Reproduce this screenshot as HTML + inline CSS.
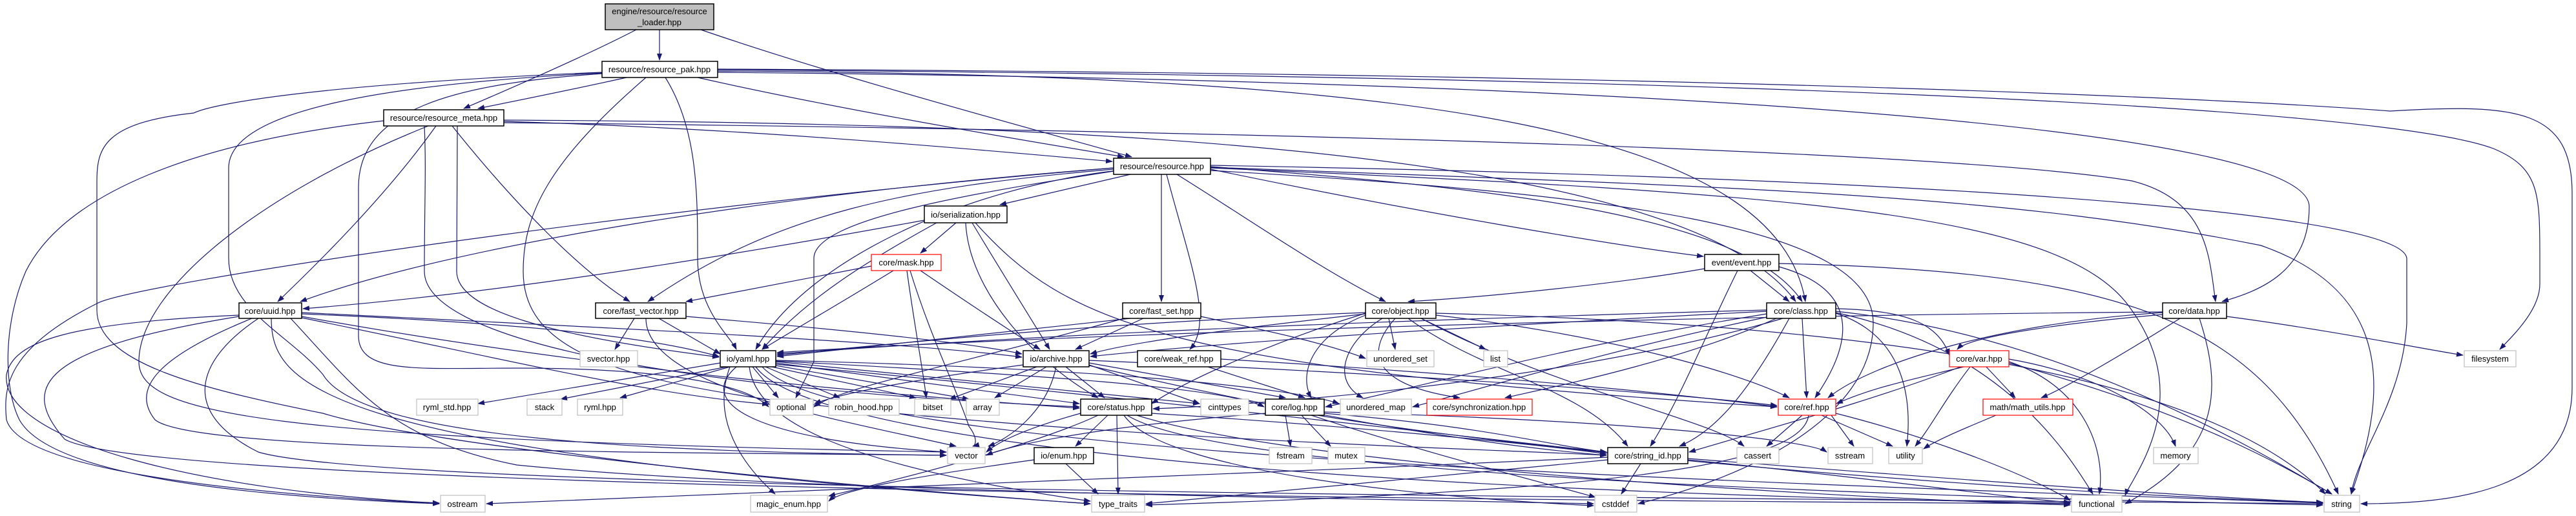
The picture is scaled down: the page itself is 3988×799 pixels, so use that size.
<!DOCTYPE html>
<html><head><meta charset="utf-8"><style>
html,body{margin:0;padding:0;background:#fff;}
svg{display:block;}
text{font-family:"Liberation Sans",Helvetica,sans-serif;font-size:13px;fill:#000;}
.e{fill:none;stroke:#191970;stroke-width:1.2;marker-end:url(#a);}
.p{fill:#fff;stroke:#000;stroke-width:1.5;}
.g{fill:#fff;stroke:#bfbfbf;stroke-width:1.2;}
.r{fill:#fff;stroke:#ff0000;stroke-width:1.2;}
</style></head><body>
<svg width="3988" height="799" viewBox="0 0 3988 799" xmlns="http://www.w3.org/2000/svg">
<defs><marker id="a" markerWidth="11" markerHeight="8" refX="10" refY="4" orient="auto" markerUnits="userSpaceOnUse"><path d="M0,0 L11,4 L0,8 z" fill="#191970"/></marker></defs>
<g>
<path class="e" d="M1021 46 L1021 93"/>
<path class="e" d="M985 46 C900 90 760 150 718 168"/>
<path class="e" d="M1085 46 C1300 120 1600 200 1752 243"/>
<path class="e" d="M970 120 C880 140 780 160 740 168"/>
<path class="e" d="M1080 120 C1300 170 1600 220 1740 243"/>
<path class="e" d="M1030 120 C1080 200 1080 300 1080 400 C1080 480 1130 520 1140 541"/>
<path class="e" d="M1111 110 C2200 115 2750 200 2795 467"/>
<path class="e" d="M1111 112 C2600 125 3575 200 3575 320 C3575 420 3500 450 3440 467"/>
<path class="e" d="M1111 108 C2800 120 3700 170 3860 230 C3932 260 3932 300 3932 400 L3932 440 C3932 480 3890 520 3870 541"/>
<path class="e" d="M1111 107 C2800 115 3550 160 3700 172 C3900 160 3982 170 3982 300 L3982 600 C3982 760 3800 780 3655 780"/>
<path class="e" d="M932 112 C500 130 330 160 300 175 C160 190 150 230 150 280 L150 480 C150 560 300 600 500 640 C700 700 1400 760 1688 780"/>
<path class="e" d="M932 113 C600 130 354 170 354 260 L354 400 C354 480 450 520 500 580 C560 680 1000 700 1465 705"/>
<path class="e" d="M932 114 C700 130 555 170 555 290 L555 520 C555 580 650 570 800 570 C1000 570 1150 590 1190 630"/>
<path class="e" d="M1000 120 C850 250 810 330 810 420 C810 520 900 580 1200 620 C1700 680 2300 695 2487 705"/>
<path class="e" d="M675 195 C600 300 500 400 430 467"/>
<path class="e" d="M700 195 C800 320 900 420 975 467"/>
<path class="e" d="M780 188 C1200 200 1600 240 1722 250"/>
<path class="e" d="M708 195 C708 260 707 320 707 420 C707 480 850 520 1113 553"/>
<path class="e" d="M663 195 C400 300 215 450 215 560 C215 640 400 680 1465 700"/>
<path class="e" d="M780 186 C1600 190 2600 220 2780 467"/>
<path class="e" d="M780 190 C1800 200 3000 230 3300 280 C3420 310 3420 400 3430 467"/>
<path class="e" d="M657 195 C660 260 657 320 657 420 C657 520 1000 600 1671 630"/>
<path class="e" d="M594 187 C300 220 100 300 40 420 C5 500 5 600 30 650 C80 740 400 770 680 780"/>
<path class="e" d="M1750 270 L1548 317"/>
<path class="e" d="M1798 270 L1798 467"/>
<path class="e" d="M1806 270 C1840 400 1880 500 1842 541"/>
<path class="e" d="M1822 270 C1950 350 2050 420 2145 467"/>
<path class="e" d="M1874 262 C2200 330 2500 380 2637 397"/>
<path class="e" d="M1874 258 C2300 290 2700 330 2790 467"/>
<path class="e" d="M1730 264 C1500 290 1250 400 1170 541"/>
<path class="e" d="M1724 262 C1400 290 1200 330 1003 467"/>
<path class="e" d="M1724 260 C1200 300 700 380 465 467"/>
<path class="e" d="M1724 265 C1500 300 1260 340 1260 400 L1260 560 1232 616"/>
<path class="e" d="M1724 260 C1000 320 200 440 150 470 C10 540 5 600 10 650 C30 720 300 760 680 780"/>
<path class="e" d="M1874 256 C3200 280 3720 340 3726 400 L3726 500 C3720 620 3650 700 3640 765"/>
<path class="e" d="M1874 264 C2500 300 2900 350 2900 500 C2900 650 2700 740 2536 780"/>
<path class="e" d="M1874 260 C2800 300 3200 330 3300 480 C3400 620 3300 740 3290 767"/>
<path class="e" d="M1874 259 C2700 290 3100 300 3500 380 C3700 450 3700 600 3640 765"/>
<path class="e" d="M1480 345 L1425 392"/>
<path class="e" d="M1450 345 C1350 400 1250 460 1180 541"/>
<path class="e" d="M1505 345 C1550 420 1600 500 1625 541"/>
<path class="e" d="M1495 345 C1500 450 1600 560 1700 616"/>
<path class="e" d="M1510 345 C1650 500 1800 570 2751 630"/>
<path class="e" d="M1431 341 C1000 420 700 460 469 478"/>
<path class="e" d="M1349 412 C1200 440 1100 460 1062 467"/>
<path class="e" d="M1383 419 C1300 470 1230 510 1180 541"/>
<path class="e" d="M1425 419 C1500 470 1560 510 1610 541"/>
<path class="e" d="M1404 419 C1415 500 1430 580 1434 616"/>
<path class="e" d="M1409 419 C1440 520 1480 600 1500 660 C1515 680 1510 690 1506 691"/>
<path class="e" d="M982 493 L952 541"/>
<path class="e" d="M1020 493 L1115 548"/>
<path class="e" d="M1062 490 C1300 510 1500 530 1582 548"/>
<path class="e" d="M1000 493 C1000 600 1300 650 1480 691"/>
<path class="e" d="M1770 493 L1665 541"/>
<path class="e" d="M1859 490 C1950 510 2050 530 2114 555"/>
<path class="e" d="M1750 493 C1500 520 1300 540 1203 552"/>
<path class="e" d="M1740 493 C1500 560 1300 600 1260 630"/>
<path class="e" d="M467 486 C800 500 1000 520 1113 552"/>
<path class="e" d="M467 484 C1000 510 1400 530 1582 553"/>
<path class="e" d="M370 488 C100 500 20 530 10 580 C0 680 300 760 680 779"/>
<path class="e" d="M390 493 C250 550 200 600 240 650 C300 700 1000 700 1465 705"/>
<path class="e" d="M420 493 C420 600 500 700 1688 780"/>
<path class="e" d="M400 493 C300 560 280 640 400 700 C600 760 2500 770 3596 780"/>
<path class="e" d="M450 493 C550 600 600 680 800 720 C1200 760 2000 770 2467 780"/>
<path class="e" d="M370 490 C60 540 30 600 100 680 C200 740 1500 770 3205 780"/>
<path class="e" d="M467 490 C800 550 1200 600 1671 632"/>
<path class="e" d="M467 492 C800 560 1000 610 1190 626"/>
<path class="e" d="M1165 568 L1205 616"/>
<path class="e" d="M1185 568 L1300 616"/>
<path class="e" d="M1195 568 L1418 616"/>
<path class="e" d="M1201 566 L1500 618"/>
<path class="e" d="M1125 568 L868 618"/>
<path class="e" d="M1130 568 L960 616"/>
<path class="e" d="M1115 562 L740 625"/>
<path class="e" d="M1140 568 C1080 620 1150 680 1465 700"/>
<path class="e" d="M1130 568 C1100 650 1150 720 1200 765"/>
<path class="e" d="M1160 568 C1170 650 1300 720 1688 776"/>
<path class="e" d="M1201 562 L1671 625"/>
<path class="e" d="M1201 560 L1857 625"/>
<path class="e" d="M1201 559 C1600 580 1900 600 1957 630"/>
<path class="e" d="M1201 558 C1700 570 2000 600 2073 625"/>
<path class="e" d="M1180 568 C1300 700 2500 740 3596 779"/>
<path class="e" d="M1201 564 C1800 620 2300 680 2487 700"/>
<path class="e" d="M1170 568 C1250 680 2000 760 3205 779"/>
<path class="e" d="M1650 568 L1710 616"/>
<path class="e" d="M1635 568 C1620 640 1560 680 1530 691"/>
<path class="e" d="M1620 568 L1540 616"/>
<path class="e" d="M1605 568 L1470 618"/>
<path class="e" d="M1584 565 C1400 590 1300 610 1261 625"/>
<path class="e" d="M1686 565 L1857 625"/>
<path class="e" d="M1686 562 L1990 616"/>
<path class="e" d="M1686 558 C2200 580 2600 610 2751 628"/>
<path class="e" d="M1686 566 C2000 640 2300 690 2487 705"/>
<path class="e" d="M1890 556 C2300 580 2600 610 2751 630"/>
<path class="e" d="M1870 568 L2020 616"/>
<path class="e" d="M1715 643 L1665 691"/>
<path class="e" d="M1729 643 L1731 765"/>
<path class="e" d="M1700 643 C1600 690 1400 740 1283 768"/>
<path class="e" d="M1673 640 C1600 660 1550 680 1527 700"/>
<path class="e" d="M1783 640 C2100 660 2400 690 2487 703"/>
<path class="e" d="M1745 643 C1900 740 3000 770 3596 782"/>
<path class="e" d="M1760 643 C2000 720 2800 770 3205 782"/>
<path class="e" d="M1740 643 C1800 730 2200 770 2467 783"/>
<path class="e" d="M1601 712 C1400 740 1300 760 1283 776"/>
<path class="e" d="M1650 718 L1700 765"/>
<path class="e" d="M1990 643 L1998 691"/>
<path class="e" d="M2015 643 L2060 691"/>
<path class="e" d="M2030 643 C2200 700 2400 750 2470 770"/>
<path class="e" d="M2050 640 C2300 660 2400 690 2487 700"/>
<path class="e" d="M1959 640 C1700 660 1560 690 1527 705"/>
<path class="e" d="M2050 638 C2500 650 2800 680 2828 700"/>
<path class="e" d="M2040 643 C2500 720 3300 770 3596 778"/>
<path class="e" d="M2150 493 L2160 541"/>
<path class="e" d="M2200 493 L2300 541"/>
<path class="e" d="M2223 488 C2500 520 2700 580 2770 616"/>
<path class="e" d="M2180 493 C2300 580 2450 600 2520 691"/>
<path class="e" d="M2140 493 C2080 530 2060 590 2110 616"/>
<path class="e" d="M2160 493 C2100 560 2150 600 2260 616"/>
<path class="e" d="M2114 488 C2030 520 2010 580 2030 616"/>
<path class="e" d="M2114 485 C2000 520 1850 580 1783 625"/>
<path class="e" d="M2114 484 C1700 500 1400 530 1203 550"/>
<path class="e" d="M2114 486 C1900 510 1750 530 1688 548"/>
<path class="e" d="M2200 493 C2400 600 2650 650 2700 691"/>
<path class="e" d="M2223 485 C2800 500 3400 560 3600 765"/>
<path class="e" d="M2790 493 L2797 616"/>
<path class="e" d="M2770 493 C2700 620 2650 670 2600 691"/>
<path class="e" d="M2735 480 C2000 500 1600 520 1203 548"/>
<path class="e" d="M2735 482 C2200 510 1900 530 1688 552"/>
<path class="e" d="M2735 486 C2400 540 2200 600 2052 630"/>
<path class="e" d="M2760 493 C2500 570 2100 620 1785 633"/>
<path class="e" d="M2740 490 C2500 540 2300 600 2187 630"/>
<path class="e" d="M2750 493 C2600 560 2400 600 2330 616"/>
<path class="e" d="M2842 485 C2950 520 2960 620 2952 691"/>
<path class="e" d="M2842 482 C3200 520 3500 700 3610 765"/>
<path class="e" d="M2842 484 C3100 540 3200 700 3240 765"/>
<path class="e" d="M2842 478 C2950 480 3000 500 3018 550"/>
<path class="e" d="M2639 416 C2500 440 2300 460 2180 467"/>
<path class="e" d="M2710 419 L2770 467"/>
<path class="e" d="M2690 419 C2640 520 2600 620 2555 691"/>
<path class="e" d="M2754 413 C2850 440 2890 500 2810 616"/>
<path class="e" d="M2754 408 C3300 420 3500 500 3620 765"/>
<path class="e" d="M3348 487 C3200 500 3050 520 3030 541"/>
<path class="e" d="M3375 493 C3300 540 3200 600 3160 616"/>
<path class="e" d="M3447 490 C3600 510 3750 540 3813 550"/>
<path class="e" d="M3405 493 C3440 600 3440 700 3290 780"/>
<path class="e" d="M3348 484 C3100 500 2900 560 2830 616"/>
<path class="e" d="M3348 483 C2500 490 1600 520 1203 546"/>
<path class="e" d="M3075 568 L3120 616"/>
<path class="e" d="M3110 556 C3250 580 3350 640 3368 691"/>
<path class="e" d="M3110 560 C3230 600 3260 700 3250 765"/>
<path class="e" d="M3110 562 C3400 640 3550 730 3610 765"/>
<path class="e" d="M3040 568 C2950 590 2900 600 2843 625"/>
<path class="e" d="M3035 568 C2900 620 2750 660 2615 700"/>
<path class="e" d="M3050 568 C3010 620 2990 660 2965 691"/>
<path class="e" d="M2790 643 L2735 691"/>
<path class="e" d="M2820 643 L2930 691"/>
<path class="e" d="M2835 643 L2870 691"/>
<path class="e" d="M2842 640 C3000 680 3150 740 3205 775"/>
<path class="e" d="M2800 643 C2790 720 2500 760 1774 782"/>
<path class="e" d="M2540 718 L2510 765"/>
<path class="e" d="M2613 710 C3000 740 3400 770 3596 778"/>
<path class="e" d="M2613 712 C2900 740 3100 770 3205 778"/>
<path class="e" d="M2489 712 C2200 740 1900 770 1774 780"/>
<path class="e" d="M2489 708 C1800 740 1000 770 753 780"/>
<path class="e" d="M3090 643 C3050 660 3000 680 2978 695"/>
</g>
<g text-anchor="middle">
<rect x="937" y="6" width="168" height="40" fill="#bfbfbf" stroke="#000" stroke-width="1.5"/>
<text x="1021" y="22">engine/resource/resource</text><text x="1021" y="39">_loader.hpp</text>
<rect class="p" x="932" y="95" width="179" height="25"/><text x="1021" y="112">resource/resource_pak.hpp</text>
<rect class="p" x="594" y="170" width="186" height="25"/><text x="687" y="187">resource/resource_meta.hpp</text>
<rect class="p" x="1724" y="245" width="150" height="25"/><text x="1799" y="262">resource/resource.hpp</text>
<rect class="p" x="1431" y="319" width="128" height="26"/><text x="1495" y="337">io/serialization.hpp</text>
<rect class="r" x="1349" y="394" width="108" height="25"/><text x="1403" y="411">core/mask.hpp</text>
<rect class="p" x="2639" y="394" width="115" height="25"/><text x="2696" y="411">event/event.hpp</text>
<rect class="p" x="370" y="469" width="97" height="24"/><text x="418" y="486">core/uuid.hpp</text>
<rect class="p" x="922" y="469" width="140" height="24"/><text x="992" y="486">core/fast_vector.hpp</text>
<rect class="p" x="1738" y="469" width="121" height="24"/><text x="1798" y="486">core/fast_set.hpp</text>
<rect class="p" x="2114" y="469" width="109" height="24"/><text x="2168" y="486">core/object.hpp</text>
<rect class="p" x="2735" y="469" width="107" height="24"/><text x="2788" y="486">core/class.hpp</text>
<rect class="p" x="3348" y="469" width="99" height="24"/><text x="3397" y="486">core/data.hpp</text>
<rect class="g" x="898" y="543" width="89" height="25"/><text x="942" y="560">svector.hpp</text>
<rect class="p" x="1115" y="543" width="86" height="25"/><text x="1158" y="560">io/yaml.hpp</text>
<rect class="p" x="1584" y="543" width="102" height="25"/><text x="1635" y="560">io/archive.hpp</text>
<rect class="p" x="1761" y="543" width="129" height="25"/><text x="1825" y="560">core/weak_ref.hpp</text>
<rect class="g" x="2116" y="543" width="104" height="25"/><text x="2168" y="560">unordered_set</text>
<rect class="g" x="2297" y="543" width="37" height="25"/><text x="2315" y="560">list</text>
<rect class="r" x="3018" y="543" width="92" height="25"/><text x="3064" y="560">core/var.hpp</text>
<rect class="g" x="3815" y="543" width="80" height="25"/><text x="3855" y="560">filesystem</text>
<rect class="g" x="645" y="618" width="95" height="25"/><text x="692" y="635">ryml_std.hpp</text>
<rect class="g" x="816" y="618" width="54" height="25"/><text x="843" y="635">stack</text>
<rect class="g" x="894" y="618" width="70" height="25"/><text x="929" y="635">ryml.hpp</text>
<rect class="g" x="1192" y="618" width="67" height="25"/><text x="1225" y="635">optional</text>
<rect class="g" x="1283" y="618" width="109" height="25"/><text x="1337" y="635">robin_hood.hpp</text>
<rect class="g" x="1416" y="618" width="56" height="25"/><text x="1444" y="635">bitset</text>
<rect class="g" x="1496" y="618" width="51" height="25"/><text x="1521" y="635">array</text>
<rect class="p" x="1673" y="618" width="110" height="25"/><text x="1728" y="635">core/status.hpp</text>
<rect class="g" x="1859" y="618" width="74" height="25"/><text x="1896" y="635">cinttypes</text>
<rect class="p" x="1959" y="618" width="91" height="25"/><text x="2004" y="635">core/log.hpp</text>
<rect class="g" x="2075" y="618" width="110" height="25"/><text x="2130" y="635">unordered_map</text>
<rect class="r" x="2209" y="618" width="163" height="25"/><text x="2290" y="635">core/synchronization.hpp</text>
<rect class="r" x="2753" y="618" width="89" height="25"/><text x="2797" y="635">core/ref.hpp</text>
<rect class="r" x="3070" y="618" width="139" height="25"/><text x="3139" y="635">math/math_utils.hpp</text>
<rect class="g" x="1467" y="693" width="58" height="25"/><text x="1496" y="710">vector</text>
<rect class="p" x="1601" y="693" width="92" height="25"/><text x="1647" y="710">io/enum.hpp</text>
<rect class="g" x="1965" y="693" width="66" height="25"/><text x="1998" y="710">fstream</text>
<rect class="g" x="2056" y="693" width="57" height="25"/><text x="2084" y="710">mutex</text>
<rect class="p" x="2489" y="693" width="124" height="25"/><text x="2551" y="710">core/string_id.hpp</text>
<rect class="g" x="2689" y="693" width="65" height="25"/><text x="2721" y="710">cassert</text>
<rect class="g" x="2830" y="693" width="69" height="25"/><text x="2864" y="710">sstream</text>
<rect class="g" x="2924" y="693" width="52" height="25"/><text x="2950" y="710">utility</text>
<rect class="g" x="3334" y="693" width="69" height="25"/><text x="3368" y="710">memory</text>
<rect class="g" x="682" y="767" width="69" height="26"/><text x="716" y="785">ostream</text>
<rect class="g" x="1162" y="767" width="119" height="26"/><text x="1221" y="785">magic_enum.hpp</text>
<rect class="g" x="1690" y="767" width="82" height="26"/><text x="1731" y="785">type_traits</text>
<rect class="g" x="2469" y="767" width="65" height="26"/><text x="2501" y="785">cstddef</text>
<rect class="g" x="3207" y="767" width="78" height="26"/><text x="3246" y="785">functional</text>
<rect class="g" x="3598" y="767" width="55" height="26"/><text x="3625" y="785">string</text>
</g>
</svg>
</body></html>
